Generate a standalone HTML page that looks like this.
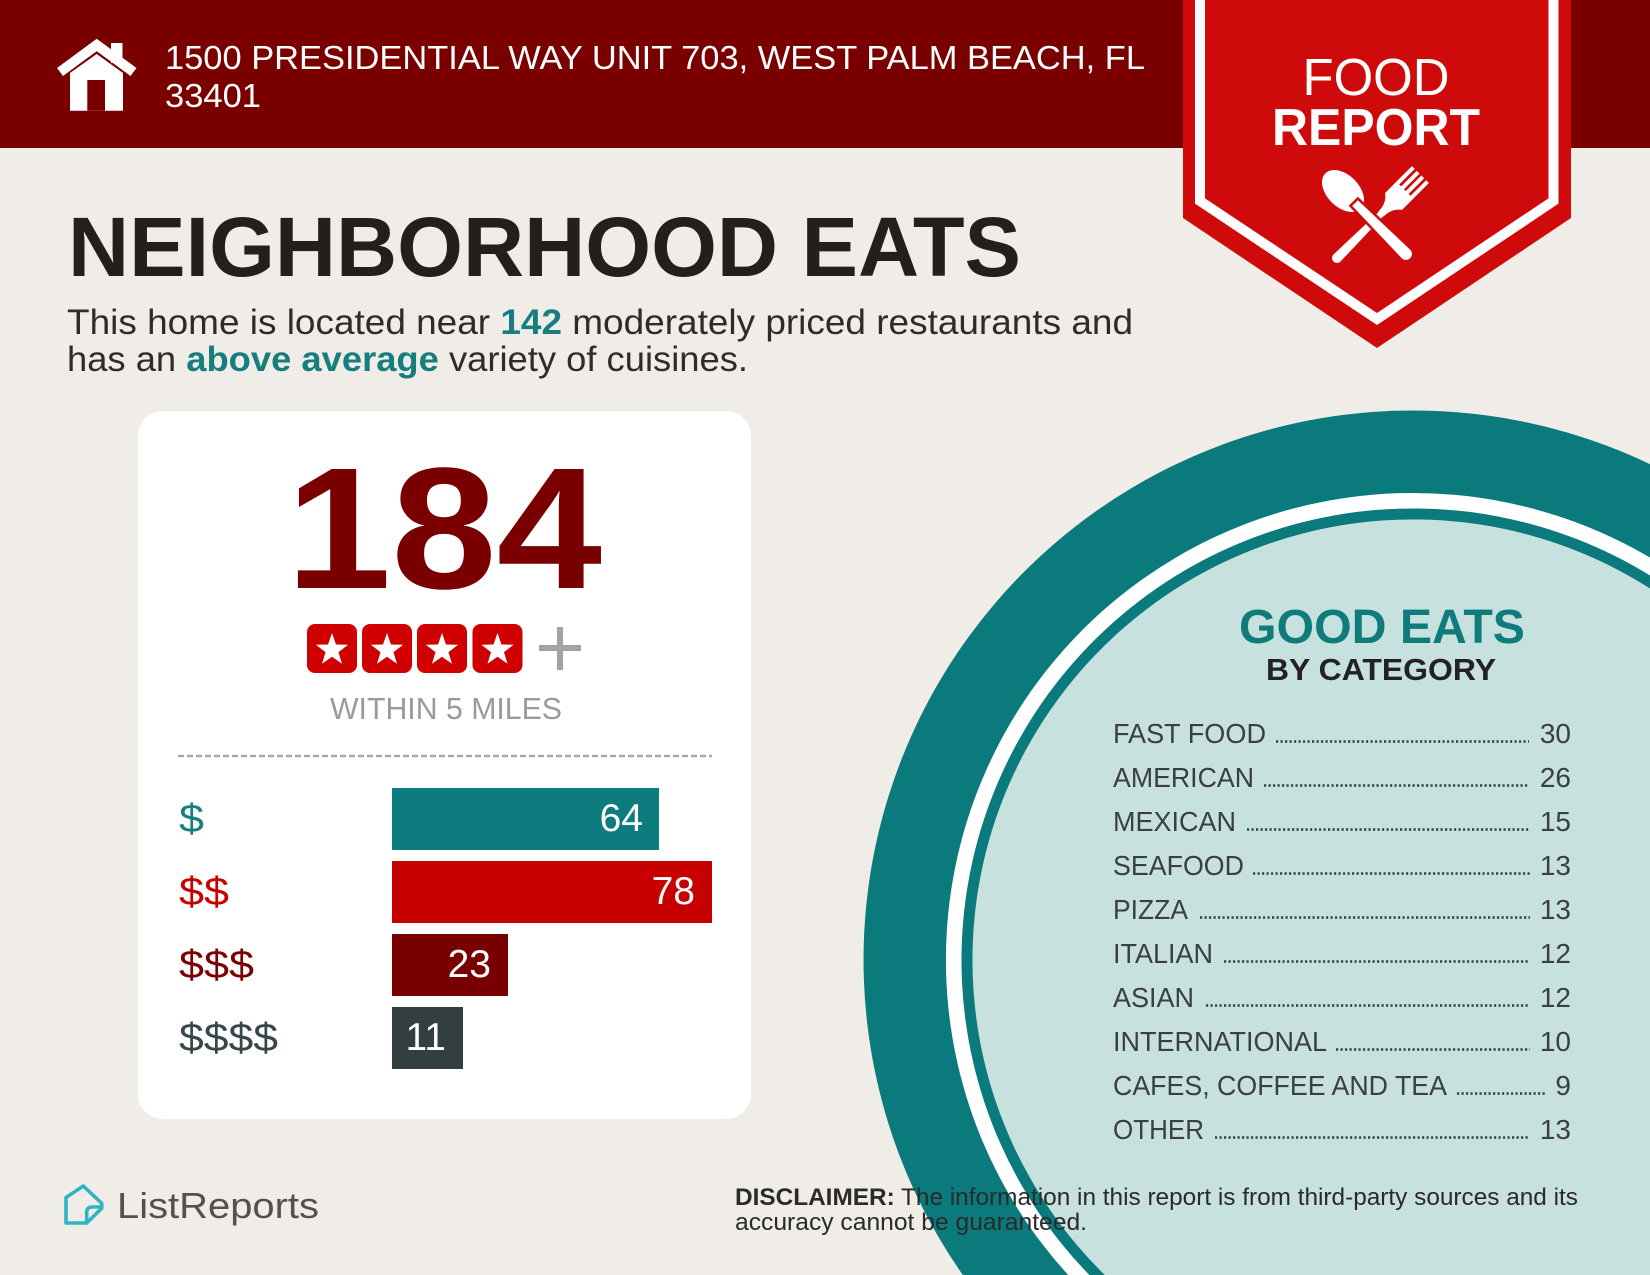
<!DOCTYPE html>
<html>
<head>
<meta charset="utf-8">
<style>
html,body{margin:0;padding:0;background:#f0ece8;width:1650px;height:1275px;overflow:hidden;}
svg{display:block;}
text{font-family:"Liberation Sans",Arial,sans-serif;}
</style>
</head>
<body>
<svg width="1650" height="1275" viewBox="0 0 1650 1275" xmlns="http://www.w3.org/2000/svg">
  <!-- background -->
  <rect x="0" y="0" width="1650" height="1275" fill="#f0ece8"/>
  <!-- header band -->
  <rect x="0" y="0" width="1650" height="148" fill="#7a0000"/>

  <!-- house icon -->
  <polyline points="60,72 96.7,45 133.5,72" fill="none" stroke="#ffffff" stroke-width="10" stroke-linejoin="miter"/>
  <rect x="111" y="43" width="11.5" height="20" fill="#ffffff"/>
  <polygon points="70,73 96.7,54 123,73 123,110.7 70,110.7" fill="#ffffff"/>
  <rect x="87.3" y="80" width="17.7" height="30.7" fill="#7a0000"/>

  <!-- address -->
  <text x="165" y="69" font-size="33" fill="#ffffff" textLength="980" lengthAdjust="spacingAndGlyphs">1500 PRESIDENTIAL WAY UNIT 703, WEST PALM BEACH, FL</text>
  <text x="165" y="107" font-size="33" fill="#ffffff" textLength="96" lengthAdjust="spacingAndGlyphs">33401</text>

  <!-- ribbon -->
  <polygon points="1183,0 1183,218 1377,348 1571,218 1571,0" fill="#cf0a0a"/>
  <polyline points="1200,0 1200,201 1377,319 1553.5,201 1553.5,0" fill="none" stroke="#ffffff" stroke-width="10"/>
  <text x="1376" y="95" font-size="52" fill="#ffffff" text-anchor="middle" textLength="147" lengthAdjust="spacingAndGlyphs">FOOD</text>
  <text x="1376" y="145" font-size="52" font-weight="bold" fill="#ffffff" text-anchor="middle" textLength="208" lengthAdjust="spacingAndGlyphs">REPORT</text>

  <!-- fork -->
  <g transform="translate(1337,258) rotate(-45)" fill="#ffffff">
    <path d="M0,-5 L66,-3 L66,3 L0,5 A5,5 0 0 1 0,-5 Z"/>
    <path d="M62,-3.5 Q74,-3.5 80,-12 L96,-12 L96,12 L80,12 Q74,3.5 62,3.5 Z"/>
    <rect x="95" y="-12" width="23" height="4"/>
    <rect x="95" y="-5.3" width="23" height="4"/>
    <rect x="95" y="1.3" width="23" height="4"/>
    <rect x="95" y="8" width="23" height="4"/>
  </g>
  <!-- spoon -->
  <g transform="translate(1343,191) rotate(45)" fill="#ffffff" stroke="#cf0a0a" stroke-width="5" paint-order="stroke">
    <ellipse cx="0" cy="0" rx="25" ry="16"/>
    <path d="M17,-4 L89,-6 A6,6 0 0 1 89,6 L17,4 Z"/>
  </g>

  <!-- title -->
  <text x="68" y="276" font-size="84" font-weight="bold" fill="#231f1c" textLength="953" lengthAdjust="spacingAndGlyphs">NEIGHBORHOOD EATS</text>

  <!-- paragraph -->
  <text x="67" y="334" font-size="35" fill="#2e2b29" textLength="1066" lengthAdjust="spacingAndGlyphs">This home is located near <tspan font-weight="bold" fill="#177e7e">142</tspan> moderately priced restaurants and</text>
  <text x="67" y="371" font-size="35" fill="#2e2b29" textLength="681" lengthAdjust="spacingAndGlyphs">has an <tspan font-weight="bold" fill="#177e7e">above average</tspan> variety of cuisines.</text>

  <!-- card -->
  <rect x="138" y="411" width="613" height="708" rx="25" ry="25" fill="#ffffff"/>

  <text x="286" y="588" font-size="173" font-weight="bold" fill="#7a0000" textLength="316" lengthAdjust="spacingAndGlyphs">184</text>

  <!-- stars -->
  <g fill="#d10000">
    <rect x="307" y="624" width="50" height="49" rx="8"/>
    <rect x="362" y="624" width="50" height="49" rx="8"/>
    <rect x="417" y="624" width="50" height="49" rx="8"/>
    <rect x="472.5" y="624" width="50" height="49" rx="8"/>
  </g>
  <g fill="#ffffff">
    <path transform="translate(332,650)" d="M0,-17 L4,-5.5 L16.17,-5.25 L6.47,2.1 L9.99,13.75 L0,6.8 L-9.99,13.75 L-6.47,2.1 L-16.17,-5.25 L-4,-5.5 Z"/>
    <path transform="translate(387,650)" d="M0,-17 L4,-5.5 L16.17,-5.25 L6.47,2.1 L9.99,13.75 L0,6.8 L-9.99,13.75 L-6.47,2.1 L-16.17,-5.25 L-4,-5.5 Z"/>
    <path transform="translate(442,650)" d="M0,-17 L4,-5.5 L16.17,-5.25 L6.47,2.1 L9.99,13.75 L0,6.8 L-9.99,13.75 L-6.47,2.1 L-16.17,-5.25 L-4,-5.5 Z"/>
    <path transform="translate(497.5,650)" d="M0,-17 L4,-5.5 L16.17,-5.25 L6.47,2.1 L9.99,13.75 L0,6.8 L-9.99,13.75 L-6.47,2.1 L-16.17,-5.25 L-4,-5.5 Z"/>
  </g>
  <!-- plus -->
  <rect x="539" y="645" width="42" height="6" fill="#a3a3a3"/>
  <rect x="557" y="627" width="6" height="43" fill="#a3a3a3"/>

  <text x="330" y="719" font-size="31" fill="#9a9a9a" textLength="232" lengthAdjust="spacingAndGlyphs">WITHIN 5 MILES</text>

  <line x1="178" y1="756" x2="712" y2="756" stroke="#a8a8a8" stroke-width="2.5" stroke-dasharray="6 3"/>

  <!-- bars -->
  <rect x="392" y="788" width="267" height="62" fill="#0c7c7e"/>
  <rect x="392" y="861" width="320" height="62" fill="#c70000"/>
  <rect x="392" y="934" width="116" height="62" fill="#780000"/>
  <rect x="392" y="1007" width="71" height="62" fill="#323e40"/>

  <text x="643" y="831" font-size="39" fill="#ffffff" text-anchor="end">64</text>
  <text x="695" y="904" font-size="39" fill="#ffffff" text-anchor="end">78</text>
  <text x="491" y="977" font-size="39" fill="#ffffff" text-anchor="end">23</text>
  <text x="446" y="1050" font-size="39" fill="#ffffff" text-anchor="end">11</text>

  <text x="179" y="832" font-size="40" fill="#167f80" textLength="25" lengthAdjust="spacingAndGlyphs">$</text>
  <text x="179" y="905" font-size="40" fill="#c80000" textLength="50" lengthAdjust="spacingAndGlyphs">$$</text>
  <text x="179" y="978" font-size="40" fill="#7b0000" textLength="75" lengthAdjust="spacingAndGlyphs">$$$</text>
  <text x="179" y="1051" font-size="40" fill="#37474a" textLength="99" lengthAdjust="spacingAndGlyphs">$$$$</text>

  <!-- plate circles (clipped to frame) -->
  <path d="M1650,464.2 A549.5,549.5 0 0 0 962.8,1275 L1650,1275 Z" fill="#0b7a7c"/>
  <path d="M1650,557.6 A467,467 0 0 0 1068.2,1275 L1650,1275 Z" fill="#ffffff"/>
  <path d="M1650,575.5 A451.7,451.7 0 0 0 1089.3,1275 L1650,1275 Z" fill="#0b7a7c"/>
  <path d="M1650,588.5 A440.7,440.7 0 0 0 1104.8,1275 L1650,1275 Z" fill="#c6e1de"/>

  <text x="1239" y="643" font-size="48" font-weight="bold" fill="#0f7c7b" textLength="286" lengthAdjust="spacingAndGlyphs">GOOD EATS</text>
  <text x="1266" y="680" font-size="31" font-weight="bold" fill="#222222" textLength="230" lengthAdjust="spacingAndGlyphs">BY CATEGORY</text>

  <!-- list -->
  <g font-size="28" fill="#3a3f40">
    <text x="1113" y="743" textLength="153" lengthAdjust="spacingAndGlyphs">FAST FOOD</text>
    <text x="1571" y="743" text-anchor="end">30</text>
    <text x="1113" y="787" textLength="141" lengthAdjust="spacingAndGlyphs">AMERICAN</text>
    <text x="1571" y="787" text-anchor="end">26</text>
    <text x="1113" y="831" textLength="123" lengthAdjust="spacingAndGlyphs">MEXICAN</text>
    <text x="1571" y="831" text-anchor="end">15</text>
    <text x="1113" y="875" textLength="131" lengthAdjust="spacingAndGlyphs">SEAFOOD</text>
    <text x="1571" y="875" text-anchor="end">13</text>
    <text x="1113" y="919" textLength="75" lengthAdjust="spacingAndGlyphs">PIZZA</text>
    <text x="1571" y="919" text-anchor="end">13</text>
    <text x="1113" y="963" textLength="100" lengthAdjust="spacingAndGlyphs">ITALIAN</text>
    <text x="1571" y="963" text-anchor="end">12</text>
    <text x="1113" y="1007" textLength="81" lengthAdjust="spacingAndGlyphs">ASIAN</text>
    <text x="1571" y="1007" text-anchor="end">12</text>
    <text x="1113" y="1051" textLength="214" lengthAdjust="spacingAndGlyphs">INTERNATIONAL</text>
    <text x="1571" y="1051" text-anchor="end">10</text>
    <text x="1113" y="1095" textLength="334" lengthAdjust="spacingAndGlyphs">CAFES, COFFEE AND TEA</text>
    <text x="1571" y="1095" text-anchor="end">9</text>
    <text x="1113" y="1139" textLength="91" lengthAdjust="spacingAndGlyphs">OTHER</text>
    <text x="1571" y="1139" text-anchor="end">13</text>
  </g>
  <g stroke="#3a3f40" stroke-width="2.4" stroke-dasharray="2.2 2.3">
    <line x1="1276" y1="741.5" x2="1529" y2="741.5"/>
    <line x1="1264" y1="785.5" x2="1529" y2="785.5"/>
    <line x1="1247" y1="829.5" x2="1530" y2="829.5"/>
    <line x1="1253" y1="873.5" x2="1530" y2="873.5"/>
    <line x1="1200" y1="917.5" x2="1530" y2="917.5"/>
    <line x1="1224" y1="961.5" x2="1530" y2="961.5"/>
    <line x1="1206" y1="1005.5" x2="1530" y2="1005.5"/>
    <line x1="1336" y1="1049.5" x2="1530" y2="1049.5"/>
    <line x1="1457" y1="1093.5" x2="1545" y2="1093.5"/>
    <line x1="1215" y1="1137.5" x2="1530" y2="1137.5"/>
  </g>

  <!-- disclaimer -->
  <text x="735" y="1205" font-size="24" fill="#2a2a2a" textLength="843" lengthAdjust="spacingAndGlyphs"><tspan font-weight="bold">DISCLAIMER:</tspan> The information in this report is from third-party sources and its</text>
  <text x="735" y="1230" font-size="24" fill="#2a2a2a" textLength="352" lengthAdjust="spacingAndGlyphs">accuracy cannot be guaranteed.</text>

  <!-- ListReports logo -->
  <g fill="none" stroke="#31b4c2" stroke-width="3.6" stroke-linejoin="round" stroke-linecap="round">
    <path d="M66,1223 L66,1197.5 L83.3,1186 L101.7,1203.3 L101.7,1208.3 L86.7,1223 Z"/>
    <path d="M86.7,1223 L86.7,1212 Q87,1207 92,1207 L101.7,1207"/>
  </g>
  <text x="117" y="1218" font-size="36" fill="#545050" textLength="202" lengthAdjust="spacingAndGlyphs">ListReports</text>
</svg>
</body>
</html>
